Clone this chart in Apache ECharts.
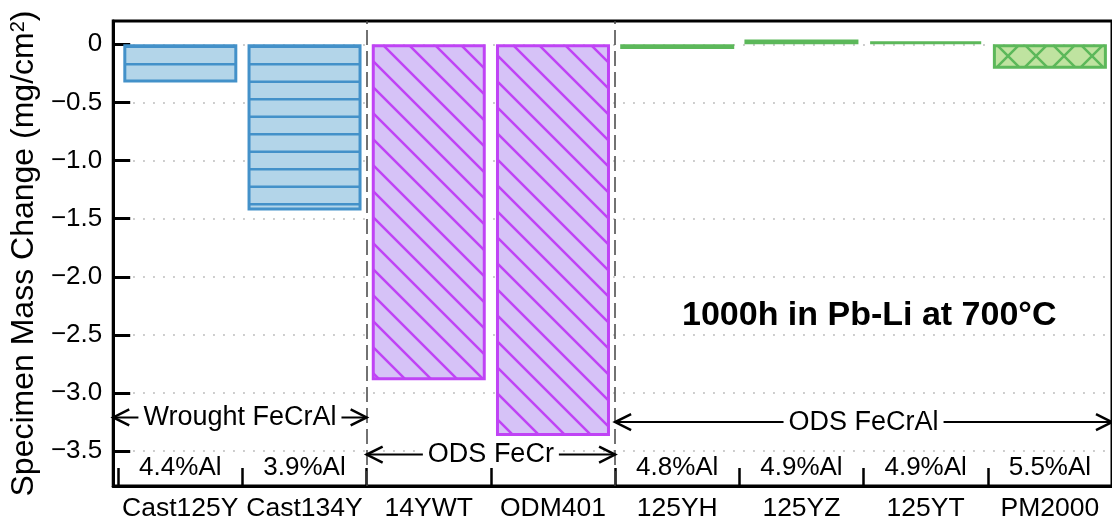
<!DOCTYPE html>
<html>
<head>
<meta charset="utf-8">
<script src="https://cdn.jsdelivr.net/npm/echarts@6/dist/echarts.min.js"></script>
<style>
  html, body { margin: 0; padding: 0; background: #fff; }
  #chart { width: 1112px; height: 522px; }
</style>
</head>
<body>
<div id="chart"></div>
<script>
// Specimen mass change after 1000 h exposure in Pb-Li at 700 °C
const categories = ['Cast125Y', 'Cast134Y', '14YWT', 'ODM401', '125YH', '125YZ', '125YT', 'PM2000'];
const massChange = [-0.33, -1.43, -2.89, -3.37, -0.04, 0.04, 0.025, -0.21];
const alloyGroup = [0, 0, 1, 1, 2, 2, 2, 2];
const groupNames = ['Wrought FeCrAl', 'ODS FeCr', 'ODS FeCrAl'];
const alContent = ['4.4%Al', '3.9%Al', '', '', '4.8%Al', '4.9%Al', '4.9%Al', '5.5%Al'];
const yTickValues = [-3.5, -3.0, -2.5, -2.0, -1.5, -1.0, -0.5, 0];

// ---- layout / style ----
const FONT = '"Liberation Sans", Arial, Helvetica, sans-serif';
const X_MIN = -0.54, X_MAX = 7.5;
const Y_MIN = -3.8, Y_MAX = 0.2;
const groupLabelLevel = [-3.21, -3.53, -3.25];

const groupStyle = [
  { fill: '#b3d5e9', stroke: '#4391c9', hatch: 'horizontal' },
  { fill: '#d6c2f7', stroke: '#c043f5', hatch: 'back' },
  { fill: '#bfe3a0', stroke: '#5cb85a', hatch: 'cross' }
];

function hatchPattern(fill, stroke, kind) {
  const c = document.createElement('canvas');
  let w, h;
  if (kind === 'horizontal') { w = 10; h = 35; }
  else if (kind === 'back') { w = 26; h = 26; }
  else { w = 28; h = 28; }
  c.width = w; c.height = h;
  const g = c.getContext('2d');
  g.fillStyle = fill;
  g.fillRect(0, 0, w, h);
  g.strokeStyle = stroke;
  g.lineWidth = 2.5;
  g.beginPath();
  if (kind === 'horizontal') {
    g.moveTo(0, 11.8); g.lineTo(w, 11.8);
    g.moveTo(0, 29.3); g.lineTo(w, 29.3);
  }
  if (kind === 'back' || kind === 'cross') {
    g.moveTo(-2, -2); g.lineTo(w + 2, h + 2);
    g.moveTo(-2, h - 2); g.lineTo(2, h + 2);
    g.moveTo(w - 2, -2); g.lineTo(w + 2, 2);
  }
  if (kind === 'cross') {
    g.moveTo(w + 2, -2); g.lineTo(-2, h + 2);
    g.moveTo(2, -2); g.lineTo(-2, 2);
    g.moveTo(w + 2, h - 2); g.lineTo(w - 2, h + 2);
  }
  g.stroke();
  return { image: c, repeat: 'repeat' };
}

const patterns = groupStyle.map(s => hatchPattern(s.fill, s.stroke, s.hatch));

const barData = massChange.map((v, i) => {
  const s = groupStyle[alloyGroup[i]];
  return {
    value: [i, v],
    itemStyle: { color: patterns[alloyGroup[i]], borderColor: s.stroke, borderWidth: 3 }
  };
});

// vertical separators between alloy families
const separators = [];
for (let i = 1; i < categories.length; i++) {
  if (alloyGroup[i] !== alloyGroup[i - 1]) separators.push({ xAxis: i - 0.5 });
}

// span of each alloy family along x
const groupSpans = groupNames.map((name, gi) => {
  const idx = alloyGroup.map((g, i) => (g === gi ? i : -1)).filter(i => i >= 0);
  const first = idx[0], last = idx[idx.length - 1];
  const start = first === 0 ? X_MIN : first - 0.5;
  const end = last === categories.length - 1 ? X_MAX : last + 0.5;
  return [start, end, groupLabelLevel[gi]];
});

const boundaryTicks = [];
for (let i = 0; i < categories.length; i++) boundaryTicks.push(i - 0.5);

const alIndex = alContent.map((t, i) => (t ? i : -1)).filter(i => i >= 0);

const chart = echarts.init(document.getElementById('chart'), null, { renderer: 'canvas' });

chart.setOption({
  animation: false,
  backgroundColor: '#fff',
  textStyle: { fontFamily: FONT },
  title: {
    text: '1000h in Pb-Li at 700°C',
    left: 682,
    top: 298,
    padding: 0,
    textStyle: { fontFamily: FONT, fontSize: 34, fontWeight: 'bold', color: '#000', lineHeight: 36 }
  },
  grid: {
    left: 111, right: -4, top: 21, bottom: 33,
    show: true, borderColor: '#000', borderWidth: 3, backgroundColor: 'transparent'
  },
  xAxis: {
    type: 'value',
    min: X_MIN,
    max: X_MAX,
    axisLine: { show: true, onZero: false, lineStyle: { color: '#000', width: 3 } },
    axisTick: { show: true, inside: true, length: 18, lineStyle: { color: '#000', width: 2.5 }, customValues: boundaryTicks },
    axisLabel: {
      customValues: categories.map((c, i) => i),
      formatter: v => categories[Math.round(v)],
      fontFamily: FONT, fontSize: 26.5, color: '#000', margin: 9
    },
    splitLine: { show: false }
  },
  yAxis: {
    type: 'value',
    min: Y_MIN,
    max: Y_MAX,
    name: 'Specimen Mass Change (mg/cm{sup|2})',
    nameLocation: 'middle',
    nameGap: 66,
    nameTextStyle: {
      fontFamily: FONT, fontSize: 32, color: '#000',
      rich: { sup: { fontFamily: FONT, fontSize: 20, verticalAlign: 'top', color: '#000' } }
    },
    axisLine: { show: true, onZero: false, lineStyle: { color: '#000', width: 3 } },
    axisTick: { show: true, inside: true, length: 17, lineStyle: { color: '#000', width: 3 }, customValues: yTickValues },
    axisLabel: {
      customValues: yTickValues,
      formatter: v => (v === 0 ? '0' : (v < 0 ? '\u2212' : '') + Math.abs(v).toFixed(1)),
      fontFamily: FONT, fontSize: 26, color: '#000', margin: 11
    },
    splitLine: { show: true, lineStyle: { color: '#aaa', width: 1.5, type: [1.5, 8.5] } }
  },
  series: [
    {
      type: 'bar',
      data: barData,
      barWidth: 114,
      markLine: {
        silent: true,
        symbol: 'none',
        label: { show: false },
        lineStyle: { color: '#444', width: 1.5, type: [15, 6] },
        data: separators
      },
      z: 2
    },
    {
      type: 'custom',
      z: 5,
      silent: true,
      data: alIndex.map(i => [i, Y_MIN]),
      renderItem: (params, api) => {
        const p = api.coord([api.value(0), api.value(1)]);
        return {
          type: 'text',
          x: p[0],
          y: p[1] - 5,
          style: {
            text: alContent[alIndex[params.dataIndex]],
            fontFamily: FONT, fontSize: 26, fill: '#000',
            align: 'center', verticalAlign: 'bottom'
          }
        };
      }
    },
    {
      type: 'custom',
      z: 6,
      silent: true,
      clip: false,
      data: groupSpans,
      renderItem: (params, api) => {
        const a = api.coord([api.value(0), api.value(2)]);
        const b = api.coord([api.value(1), api.value(2)]);
        const head = 16, half = 8;
        const mid = (a[0] + b[0]) / 2;
        return {
          type: 'group',
          children: [
            { type: 'line', shape: { x1: a[0], y1: a[1], x2: b[0], y2: b[1] }, style: { stroke: '#000', lineWidth: 2 } },
            { type: 'polyline', shape: { points: [[a[0] + head, a[1] - half], [a[0], a[1]], [a[0] + head, a[1] + half]] }, style: { stroke: '#000', lineWidth: 2.5, fill: null } },
            { type: 'polyline', shape: { points: [[b[0] - head, b[1] - half], [b[0], b[1]], [b[0] - head, b[1] + half]] }, style: { stroke: '#000', lineWidth: 2.5, fill: null } },
            {
              type: 'text', x: mid, y: a[1],
              style: {
                text: groupNames[params.dataIndex],
                fontFamily: FONT, fontSize: 27, fill: '#000',
                align: 'center', verticalAlign: 'middle',
                backgroundColor: '#fff', padding: [0, 5]
              }
            }
          ]
        };
      }
    }
  ]
});
</script>
</body>
</html>
